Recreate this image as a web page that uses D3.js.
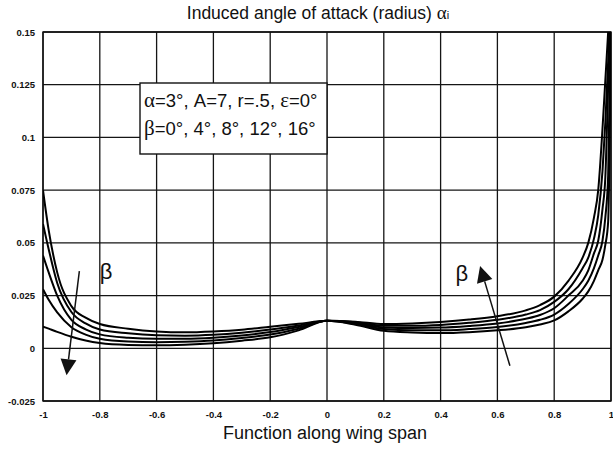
<!DOCTYPE html>
<html><head><meta charset="utf-8">
<script src="https://cdn.jsdelivr.net/npm/d3@7"></script>
<style>
html,body{margin:0;padding:0;background:#fff;}
svg{display:block;}
text{font-family:"Liberation Sans",Arial,sans-serif;fill:#111;}
</style></head>
<body>
<svg id="chart" width="613" height="449"></svg>
<script>
// ---- data ----
const spanX = [-1,-0.98,-0.95,-0.9,-0.85,-0.8,-0.7,-0.6,-0.5,-0.4,-0.3,-0.2,-0.1,0,
  0.1,0.2,0.3,0.4,0.5,0.6,0.7,0.75,0.8,0.85,0.9,0.92,0.94,0.955,0.97,0.98,0.99,1];
const betaLabels = ["0°","4°","8°","12°","16°"];
const alphaBeta0 = [0.075,0.056,0.036,0.020,0.0145,0.0115,0.0093,0.0080,0.0076,0.0080,0.0088,0.0102,0.0116,0.013,
  0.0112,0.0083,0.0075,0.0072,0.0076,0.0085,0.0100,0.0113,0.0132,0.0175,0.0235,0.027,0.032,0.037,0.042,0.049,0.060,0.155];
const alphaBeta4 = [0.059,0.047,0.031,0.0172,0.0118,0.0089,0.0071,0.0062,0.0060,0.0064,0.0074,0.0089,0.0108,0.013,
  0.0116,0.0091,0.0085,0.0085,0.0091,0.0101,0.0120,0.0135,0.0160,0.021,0.028,0.032,0.038,0.044,0.051,0.062,0.082,0.16];
const alphaBeta8 = [0.044,0.036,0.025,0.0135,0.0090,0.0066,0.0050,0.0045,0.0045,0.0050,0.0061,0.0077,0.0101,0.013,
  0.0120,0.0099,0.0096,0.0098,0.0106,0.0118,0.0140,0.0158,0.0190,0.025,0.032,0.037,0.045,0.051,0.066,0.081,0.124,0.165];
const alphaBeta12 = [0.028,0.023,0.0170,0.0100,0.0065,0.0045,0.0032,0.0029,0.0031,0.0037,0.0049,0.0065,0.0093,0.013,
  0.0123,0.0107,0.0107,0.0111,0.0121,0.0135,0.0160,0.0181,0.0220,0.028,0.038,0.043,0.052,0.063,0.084,0.107,0.136,0.17];
const alphaBeta16 = [0.0103,0.0093,0.0078,0.0055,0.0037,0.0025,0.0016,0.0014,0.0017,0.0024,0.0036,0.0052,0.0085,0.013,
  0.0126,0.0115,0.0118,0.0125,0.0136,0.0152,0.0180,0.0205,0.0245,0.032,0.043,0.050,0.062,0.075,0.104,0.127,0.150,0.175];
const xTicks = [-1,-0.8,-0.6,-0.4,-0.2,0,0.2,0.4,0.6,0.8,1];
const xTickLabels = ["-1","-0.8","-0.6","-0.4","-0.2","0","0.2","0.4","0.6","0.8","1"];
const yTicks = [-0.025,0,0.025,0.05,0.075,0.1,0.125,0.15];
const yTickLabels = ["-0.025","0","0.025","0.05","0.075","0.1","0.125","0.15"];
const titleText = "Induced angle of attack (radius) ";
const xAxisTitle = "Function along wing span";
// annotation arrows in data units: [fromX, fromY, toX, toY]
const arrowLeft = [-0.872, 0.0366, -0.917, -0.0128];
const arrowRight = [0.644, -0.0083, 0.539, 0.039];
const betaMarkLeft = [-0.778, 0.036];
const betaMarkRight = [0.475, 0.035];

const series = [alphaBeta0, alphaBeta4, alphaBeta8, alphaBeta12, alphaBeta16];

// ---- drawing ----
const svg = d3.select("#chart");
const L = 43, R = 611, T = 32, B = 401;
const x = d3.scaleLinear().domain([-1,1]).range([L,R]);
const y = d3.scaleLinear().domain([-0.025,0.15]).range([B,T]);

svg.append("defs").append("clipPath").attr("id","plot")
  .append("rect").attr("x",L).attr("y",T).attr("width",R-L).attr("height",B-T);

// grid
const grid = svg.append("g").attr("stroke","#151515").attr("stroke-width",1.3);
grid.selectAll("line.v").data(xTicks).join("line").attr("class","v")
  .attr("x1",d=>x(d)).attr("x2",d=>x(d)).attr("y1",T).attr("y2",B);
grid.selectAll("line.h").data(yTicks).join("line").attr("class","h")
  .attr("y1",d=>y(d)).attr("y2",d=>y(d)).attr("x1",L).attr("x2",R);
svg.append("rect").attr("x",L).attr("y",T).attr("width",R-L).attr("height",B-T)
  .attr("fill","none").attr("stroke","#111").attr("stroke-width",1.4);

// axes labels
const xAxis = d3.axisBottom(x).tickValues(xTicks).tickSize(0).tickPadding(0)
  .tickFormat((d,i)=>xTickLabels[i]);
const gx = svg.append("g").attr("transform",`translate(0,${B+10})`).call(xAxis);
gx.select(".domain").remove();
gx.selectAll("text").attr("font-size",9.5).attr("font-weight","bold")
  .attr("font-family","Liberation Sans, Arial, sans-serif").attr("fill","#111");

const yAxis = d3.axisLeft(y).tickValues(yTicks).tickSize(0).tickPadding(0)
  .tickFormat((d,i)=>yTickLabels[i]);
const gy = svg.append("g").attr("transform",`translate(${L-8},0)`).call(yAxis);
gy.select(".domain").remove();
gy.selectAll("text").attr("font-size",9.5).attr("font-weight","bold")
  .attr("font-family","Liberation Sans, Arial, sans-serif").attr("fill","#111");

// curves
const line = d3.line().x((d,i)=>x(spanX[i])).y(d=>y(d)).curve(d3.curveMonotoneX);
svg.append("g").attr("clip-path","url(#plot)")
  .selectAll("path").data(series).join("path")
  .attr("d",d=>line(d)).attr("fill","none").attr("stroke","#000").attr("stroke-width",2);

// title
const title = svg.append("text").attr("x",318).attr("y",19).attr("text-anchor","middle")
  .attr("font-size",17.5);
title.append("tspan").text(titleText);
title.append("tspan").attr("font-family","Liberation Serif, serif").attr("font-size",19).text("α");
title.append("tspan").attr("font-size",11).text("i");

svg.append("text").attr("x",325).attr("y",439).attr("text-anchor","middle")
  .attr("font-size",18).text(xAxisTitle);

// legend box
svg.append("rect").attr("x",140).attr("y",83).attr("width",187).attr("height",71)
  .attr("fill","#fff").attr("stroke","#111").attr("stroke-width",1.4);
const t1 = svg.append("text").attr("x",144).attr("y",107).attr("font-size",18.5);
t1.append("tspan").attr("font-family","Liberation Serif, serif").attr("font-size",21).text("α");
t1.append("tspan").text("=3°, A=7, r=.5, ");
t1.append("tspan").attr("font-family","Liberation Serif, serif").attr("font-size",21).text("ε");
t1.append("tspan").text("=0°");
const t2 = svg.append("text").attr("x",144).attr("y",135).attr("font-size",18.5);
t2.append("tspan").attr("font-family","Liberation Serif, serif").attr("font-size",21).text("β");
t2.append("tspan").text("=" + betaLabels.join(", "));

// arrows
function arrow(a){
  const x1=x(a[0]), y1=y(a[1]), x2=x(a[2]), y2=y(a[3]);
  const ang=Math.atan2(y2-y1,x2-x1), len=16, w=8;
  const bx=x2-len*Math.cos(ang), by=y2-len*Math.sin(ang);
  svg.append("line").attr("x1",x1).attr("y1",y1).attr("x2",bx).attr("y2",by)
    .attr("stroke","#111").attr("stroke-width",1.5);
  const px=-Math.sin(ang), py=Math.cos(ang);
  svg.append("path").attr("d",`M${x2},${y2}L${bx+px*w},${by+py*w}L${bx-px*w},${by-py*w}Z`)
    .attr("fill","#111");
}
arrow(arrowLeft); arrow(arrowRight);
[betaMarkLeft, betaMarkRight].forEach(p=>{
  svg.append("text").attr("x",x(p[0])).attr("y",y(p[1])+7).attr("text-anchor","middle")
    .attr("font-family","Liberation Serif, serif").attr("font-size",22).text("β");
});
</script>
</body></html>
